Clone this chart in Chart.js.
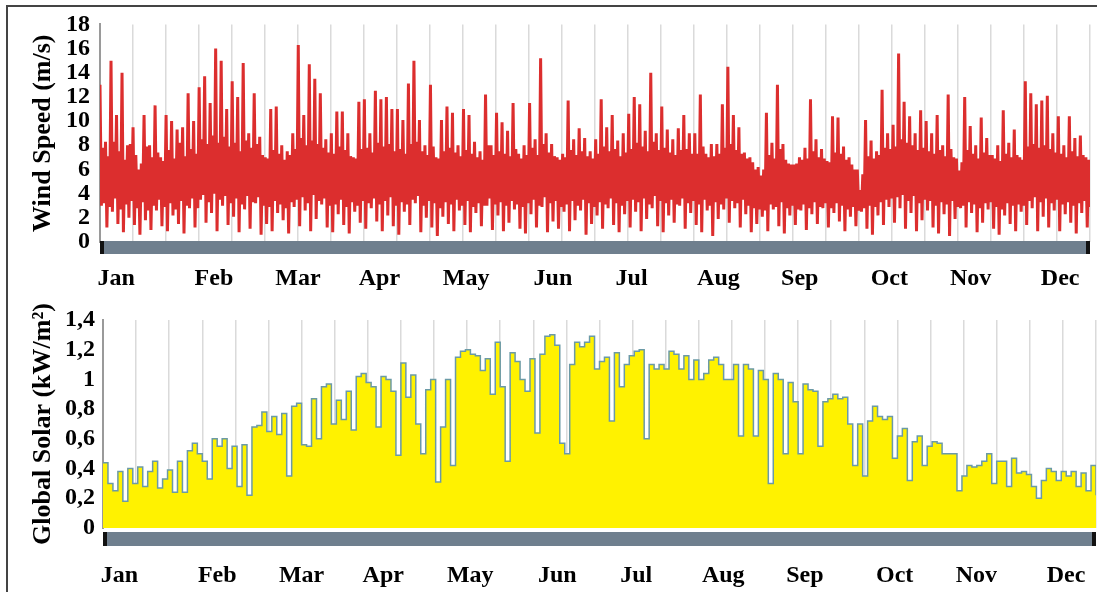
<!DOCTYPE html>
<html>
<head>
  <title>Wind speed and global solar</title>
  <script src="https://cdn.jsdelivr.net/npm/chart.js"></script>
  <style>
    body { margin: 0; background: #fff; }
    #frame { position: absolute; left: 6px; top: 5px; width: 1100px; height: 600px; border-top: 2px solid #444; border-left: 2px solid #444; }
    canvas { position: absolute; left: 0; }
  </style>
</head>
<body>
  <div id="frame"></div>
  <canvas id="windChart" width="1097" height="295" style="top:0"></canvas>
  <canvas id="solarChart" width="1097" height="297" style="top:295px"></canvas>

  <script>
    // month labels and where they sit (day of year)
    const monthNames = ['Jan', 'Feb', 'Mar', 'Apr', 'May', 'Jun', 'Jul', 'Aug', 'Sep', 'Oct', 'Nov', 'Dec'];
    const monthPos = [6, 42, 73, 103, 135, 167, 196, 228, 258, 291, 321, 354];

    const windTicks = [0, 18, 2];      // min, max, step
    const solarTicks = [0, 1.4, 0.2];

    // wind speed (m/s): spike, dip, then the solid core
    const windSpeed = [
      13,3,7.8,3.2, 8.3,1.2,7.1,2.9, 15,2.5,8.3,3.6, 10.5,1.5,7.5,2.7, 14,0.8,6.8,3.1, 8,2,8.1,3.4,
      9.5,1.4,7.2,2.8, 6,0.6,6.5,3.3, 10.5,1.8,7.9,2.6, 8,1,7,3, 11.3,2.6,7.4,3.5, 7,1.3,6.7,2.9,
      10.5,0.9,7.6,3.2, 10,2.2,6.9,2.7, 9.3,1.5,8.2,3.4, 9.5,0.7,7.1,3, 12.3,2.8,7.7,3.6, 10,1.2,7.3,2.8,
      12.8,3.5,8.5,3.9, 13.7,1.6,8.1,3.3, 11.5,2.4,8.8,4, 16,0.9,8.2,3.5, 15,3,8.7,3.8, 11,1.4,7.9,3.2,
      13.3,2.1,8.2,3.6, 12,0.8,7.5,3.1, 14.8,2.7,8.4,3.8, 9,1.1,7.8,3.3, 12.3,3.2,8.1,3.7, 8.7,0.6,7.2,3,
      7,1.5,6.9,2.9, 11,0.9,7.6,3.4, 11.2,2.4,7.3,3.1, 8,1.8,6.8,2.8, 7.5,0.7,7.2,3.3, 9,2.9,7.7,3.5,
      16.3,1.3,8.6,3.7, 10.5,2.6,8,3.2, 14.7,0.9,8.4,3.9, 13.5,1.9,8.1,3.4, 12.3,3.1,7.8,3.6, 8.5,1.2,7.4,3,
      9,0.8,7.3,3.1, 10.8,2.3,7.9,3.5, 10.8,1.4,7.6,2.9, 9,0.7,7.1,3.3, 7,2.5,6.9,3, 11.6,1.6,7.7,3.4,
      11.8,1.1,7.8,3.2, 9,2.8,7.4,3.6, 12.5,1.7,8.2,3.1, 11.8,0.9,7.9,3.4, 12,2.2,8.1,3.7, 11,1.3,7.5,3,
      11,0.6,7.7,3.3, 10.1,2.5,7.3,3.1, 13.1,1.4,8.1,3.5, 15,3.2,8.3,3.8, 10.1,0.8,7.5,3, 8,2,7.2,3.4,
      13,1.2,7.9,3.2, 7,0.5,6.9,2.8, 10.1,2.1,7.5,3.3, 11.2,1.5,7.8,3.1, 10.7,0.9,7.4,3.5, 8,2.6,7.1,3,
      11,1.4,7.6,3.4, 10.5,0.8,7.3,2.9, 8.3,2.4,7,3.2, 7.5,1.3,6.8,3, 12.2,3,8,3.6, 8,1,7.2,3.1,
      10.7,2.2,7.5,3.3, 9.9,0.9,7.3,3, 9.2,1.6,7.1,3.4, 11.5,2.7,7.7,3.1, 7.3,1.1,6.9,2.9, 8,0.7,7.2,3.2,
      11.5,2.3,7.8,3.5, 8.5,1.2,7.2,3, 15.2,2.9,8.1,3.7, 9,0.8,7.4,3.2, 8.1,1.7,7.1,3.4, 7,1.1,6.8,2.9,
      7.3,2.5,7,3.1, 11.7,0.9,7.6,3.4, 8.5,1.8,7.2,3, 9.4,2.6,7.5,3.5, 8.6,0.6,7.1,3.2, 7.5,1.5,6.9,2.9,
      8.5,2.2,7.3,3.3, 11.8,1.1,7.9,3.1, 9.5,2.8,7.5,3.6, 10.5,1.4,7.7,3.2, 8.4,0.8,7.1,3, 9,2.3,7.4,3.4,
      10.6,1.2,7.7,3.5, 12,2.5,8.2,3.3, 11.4,0.9,7.9,3.6, 9.2,1.9,7.5,3.1, 14,2.8,8.3,3.8, 9,1.3,7.6,3.4,
      11.2,0.8,7.8,3.2, 9.3,2.2,7.4,3.5, 8.5,1.6,7.2,3.1, 9.4,3,7.6,3.6, 10.5,1.1,7.7,3.2, 9,2.4,7.3,3.4,
      9,1.4,7.3,3.1, 12.2,0.8,7.9,3.5, 7.3,2.6,7,3, 8.1,0.5,7.1,3.3, 8.1,1.9,7.3,3.1, 11.4,2.7,7.8,3.6,
      14.5,1.6,8.1,3.4, 10.5,2.8,7.6,3.2, 9.5,1.2,7.3,3.5, 7.4,2.3,6.9,3, 7,0.8,6.6,2.8, 6,1.5,6.2,2.7,
      5.5,2.1,6,2.6, 10.7,0.9,7.2,3.1, 8.2,2.7,6.9,2.9, 13,1.3,7.7,3.3, 8.1,0.7,6.8,2.8, 6.5,2.2,6.4,3,
      6.4,1.4,6.5,2.7, 7,2.6,6.8,3.1, 7.8,1,6.9,2.8, 11.8,2.3,7.5,3.3, 8.5,1.5,7,2.9, 7.7,2.8,6.9,3.2,
      6.7,1.2,6.6,2.8, 10.4,2.4,7.4,3.2, 10.3,1.7,7.3,3, 7.9,0.9,6.8,2.7, 7,2.1,6.4,2.9, 6,1.3,6,2.6,
      4.3,2.5,5.6,2.8, 10.1,1.1,7.1,3, 8.4,0.6,6.9,2.9, 7.5,2.2,7.2,3.3, 12.6,1.4,7.8,3.5, 9,2.9,7.7,3.6,
      9.7,1.6,7.9,3.7, 15.6,2.8,8.5,3.9, 11.6,1.1,8.2,3.4, 10.4,2.4,8,3.8, 9,0.9,7.6,3.2, 10.9,1.8,7.8,3.5,
      10,2.6,7.5,3.4, 9,1.2,7.3,3, 10.5,0.7,7.6,3.3, 8,2.3,7.1,3.1, 12.2,0.5,7.7,3.4, 7,1.9,6.9,2.9,
      5.9,2.8,6.6,3, 12,1.2,7.6,3.3, 9.6,2.4,7.3,3.1, 8,0.8,6.9,2.8, 10.3,1.6,7.4,3.2, 8.6,2.7,7.2,3.3,
      7.2,1.1,6.9,2.9, 8,0.6,6.7,2.7, 10.9,2.2,7.3,3.2, 8.2,1.5,7,3, 9.3,0.9,7.2,3.1, 7,2.5,6.8,3,
      13.3,1.4,7.9,3.4, 12.3,2.8,8.1,3.7, 11.4,0.9,7.8,3.3, 11.7,2.1,8,3.6, 12.1,1.2,7.7,3.2, 9,2.6,7.4,3.5,
      10.4,0.9,7.3,3.1, 8,2.3,7,3.3, 10.4,1.6,7.5,3, 8.6,0.7,7.1,3.2, 8.8,2.4,7.2,3.4, 7,1.2,6.8,2.9
    ];

    // global solar (kW/m2), daily-ish steps
    const globalSolar = [
      0.44, 0.30, 0.25, 0.38, 0.18, 0.40, 0.30, 0.41, 0.28, 0.38, 0.45, 0.27, 0.33, 0.39, 0.24, 0.45, 0.24, 0.52, 0.57, 0.50,
      0.45, 0.33, 0.60, 0.55, 0.60, 0.40, 0.55, 0.28, 0.56, 0.22, 0.68, 0.69, 0.78, 0.65, 0.75, 0.63, 0.77, 0.35, 0.82, 0.84, 0.56,
      0.55, 0.87, 0.60, 0.95, 0.97, 0.70, 0.86, 0.73, 0.92, 0.66, 1.02, 1.04, 0.98, 0.95, 0.68, 1.02, 1.0, 0.92, 0.49, 1.11,
      0.88, 1.03, 0.70, 0.50, 0.93, 1.0, 0.31, 0.68, 1.0, 0.42, 1.15, 1.19, 1.20, 1.17, 1.16, 1.06, 1.14, 0.90, 1.25, 0.95,
      0.45, 1.18, 1.12, 1.0, 0.92, 1.14, 0.64, 1.17, 1.29, 1.30, 1.23, 0.57, 0.50, 1.10, 1.25, 1.22, 1.25, 1.29, 1.07, 1.12,
      1.15, 0.72, 1.18, 0.95, 1.10, 1.16, 1.19, 1.20, 0.60, 1.10, 1.07, 1.10, 1.07, 1.19, 1.17, 1.07, 1.16, 1.0, 1.13, 1.0,
      1.04, 1.13, 1.15, 1.10, 1.0, 1.0, 1.10, 0.62, 1.10, 1.07, 0.62, 1.06, 1.0, 0.30, 1.04, 1.0, 0.50, 0.98, 0.85, 0.50,
      0.97, 0.93, 0.92, 0.55, 0.85, 0.87, 0.90, 0.87, 0.88, 0.70, 0.42, 0.70, 0.35, 0.72, 0.82, 0.75, 0.73, 0.75, 0.47, 0.62,
      0.67, 0.32, 0.58, 0.62, 0.42, 0.55, 0.58, 0.57, 0.50, 0.50, 0.50, 0.25, 0.35, 0.42, 0.41, 0.42, 0.45, 0.50, 0.30, 0.45,
      0.45, 0.28, 0.47, 0.37, 0.38, 0.36, 0.28, 0.20, 0.32, 0.40, 0.38, 0.32, 0.38, 0.35, 0.38, 0.28, 0.37, 0.25, 0.42, 0.22
    ];

    const serif = 'Liberation Serif, Times New Roman, serif';
    const tickFont = { family: serif, size: 24, weight: 'bold' };
    const titleFont = { family: serif, size: 26, weight: 'bold' };

    // grey range bar under each plot, with black end caps
    const navBar = {
      id: 'navBar',
      afterDraw(chart, args, opts) {
        const { ctx, chartArea: a } = chart;
        const top = a.bottom + opts.gap;
        ctx.save();
        ctx.fillStyle = '#6f7f8e';
        ctx.fillRect(a.left, top, a.right - a.left, opts.height);
        ctx.fillStyle = '#111';
        ctx.fillRect(a.left, top, 4, opts.height);
        ctx.fillRect(a.right - 4, top, 4, opts.height);
        ctx.restore();
      }
    };

    function toPoints(arr) {
      return arr.map((v, i) => ({ x: i * 365 / (arr.length - 1), y: v }));
    }

    // "1" and "0" stay bare, the rest get a decimal comma
    function commaTick(v) {
      const r = Math.round(v * 10) / 10;
      return Number.isInteger(r) ? String(r) : r.toFixed(1).replace('.', ',');
    }

    // x: gridlines only (its height is the gap above the month labels), xm: month labels
    function buildScales(t, yWidth, yTitle, gap, xHeight, tickPad, tickCb) {
      return {
        x: {
          type: 'linear', min: 0, max: 365,
          ticks: { display: false, stepSize: 365 / 30 },
          grid: { color: '#dadada', lineWidth: 1.5, drawTicks: false },
          border: { display: false },
          afterFit: s => { s.height = gap; }
        },
        xm: {
          type: 'linear', position: 'bottom', min: 0, max: 365,
          afterBuildTicks: s => { s.ticks = monthPos.map(v => ({ value: v })); },
          ticks: {
            callback: (v, i) => monthNames[i],
            autoSkip: false, maxRotation: 0, padding: 0,
            font: tickFont, color: '#000'
          },
          grid: { display: false, drawTicks: false },
          border: { display: false },
          afterFit: s => { s.height = xHeight; }
        },
        y: {
          min: t[0], max: t[1],
          ticks: { stepSize: t[2], autoSkip: false, padding: tickPad, font: tickFont, color: '#000', callback: tickCb },
          grid: { display: false, drawTicks: false },
          border: { display: true, color: '#9a9a9a', width: 2 },
          title: { display: true, text: yTitle, font: titleFont, color: '#000', padding: { top: 28, bottom: 0 } },
          afterFit: s => { s.width = yWidth; }
        }
      };
    }

    new Chart(document.getElementById('windChart'), {
      type: 'line',
      data: {
        datasets: [{
          data: toPoints(windSpeed),
          borderColor: '#dc2e2e',
          borderWidth: 3,
          pointRadius: 0,
          tension: 0,
          fill: false
        }]
      },
      options: {
        responsive: false,
        animation: false,
        layout: { padding: { top: 23, right: 7, left: 0, bottom: 0 } },
        plugins: { legend: { display: false }, tooltip: { enabled: false }, navBar: { gap: -1, height: 13 } },
        scales: buildScales(windTicks, 100, 'Wind Speed (m/s)', 22, 31, 10, v => String(v))
      },
      plugins: [navBar]
    });

    new Chart(document.getElementById('solarChart'), {
      type: 'line',
      data: {
        datasets: [{
          data: toPoints(globalSolar),
          borderColor: '#6b9aa6',
          backgroundColor: '#fff200',
          borderWidth: 1.5,
          pointRadius: 0,
          stepped: true,
          fill: 'origin'
        }]
      },
      options: {
        responsive: false,
        animation: false,
        layout: { padding: { top: 25, right: 1, left: 0, bottom: 0 } },
        plugins: { legend: { display: false }, tooltip: { enabled: false }, navBar: { gap: 4, height: 14 } },
        scales: buildScales(solarTicks, 103, 'Global Solar (kW/m²)', 33, 31, 8, commaTick)
      },
      plugins: [navBar]
    });
  </script>
</body>
</html>
